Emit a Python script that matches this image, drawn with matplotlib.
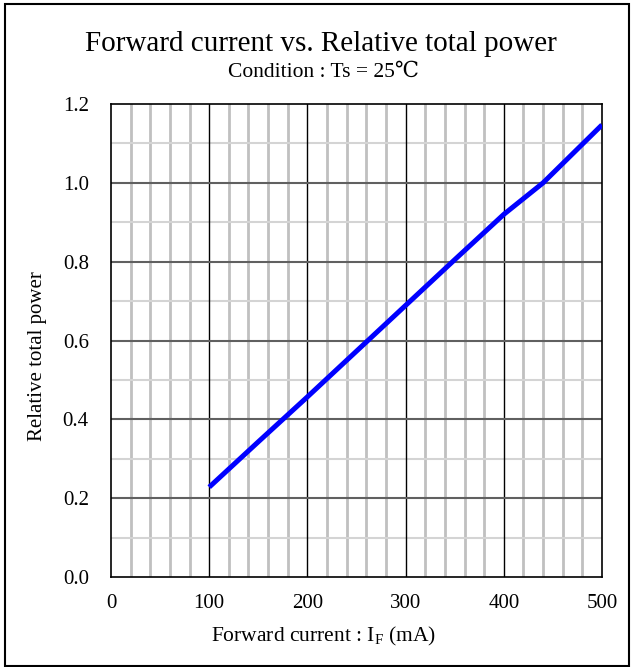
import matplotlib
matplotlib.use("Agg")
import matplotlib.pyplot as plt
from matplotlib.patches import Rectangle
from matplotlib.ticker import MultipleLocator

plt.rcParams['font.family'] = ['Liberation Serif', 'DejaVu Serif']

# Data
current_ma = [100, 150, 200, 250, 300, 350, 400, 440, 500]
rel_power = [0.228, 0.343, 0.457, 0.573, 0.689, 0.805, 0.920, 1.000, 1.147]

x_ticks = [0, 100, 200, 300, 400, 500]
y_ticks = [0.0, 0.2, 0.4, 0.6, 0.8, 1.0, 1.2]

W, H = 634, 667
fig = plt.figure(figsize=(W / 100, H / 100), dpi=100)
ax = fig.add_axes([111 / W, 1 - 577 / H, 491 / W, 473 / H])

ax.set_xlim(0, 500)
ax.set_ylim(0, 1.2)
ax.set_xticks(x_ticks)
ax.set_yticks(y_ticks)
ax.set_yticklabels([f"{v:.1f}" for v in y_ticks])
ax.xaxis.set_minor_locator(MultipleLocator(20))
ax.yaxis.set_minor_locator(MultipleLocator(0.1))

# grid: minor first, major on top
for v in range(20, 500, 20):
    if v % 100:
        ax.axvline(v, color="#c0c0c0", lw=2.0, zorder=1)
for v in [0.1, 0.3, 0.5, 0.7, 0.9, 1.1]:
    ax.axhline(v, color="#d4d4d4", lw=1.5, zorder=1)
for v in x_ticks[1:-1]:
    ax.axvline(v, color="black", lw=1.0, zorder=2)
for v in y_ticks[1:-1]:
    ax.axhline(v, color="#606060", lw=1.5, zorder=2)

ax.tick_params(which="both", length=0, labelsize=15)
ax.tick_params(axis="x", pad=12.5)
ax.tick_params(axis="y", pad=16)
for s in ax.spines.values():
    s.set_color("black")
    s.set_linewidth(1.2)

ax.plot(current_ma, rel_power, color="#0000ff", lw=3.6, zorder=3, solid_capstyle="butt")

ax.set_xlabel("Forward current : I$_\\mathregular{F}$ (mA)", fontsize=15.5)
ax.xaxis.label.set_va("baseline")
ax.xaxis.set_label_coords(0.433, -(641 - 577) / 473)
ax.set_ylabel("Relative total power", fontsize=15)
ax.yaxis.set_label_coords((47 - 111) / 491, 0.468)

fig.text(320.5 / W, 1 - 51 / H, "Forward current vs. Relative total power",
         ha="center", va="baseline", fontsize=21)
fig.text(323.5 / W, 1 - 77 / H, "Condition : Ts = 25\u2103",
         ha="center", va="baseline", fontsize=15.5,
         family=['Liberation Serif', 'DejaVu Serif', 'Noto Sans CJK JP'])

fig.patches.append(Rectangle((5 / W, 1.5 / H), 1 - 10 / W, 1 - 5 / H,
                             transform=fig.transFigure, fill=False,
                             edgecolor="black", lw=1.5))

fig.savefig("out.png", dpi=100)
